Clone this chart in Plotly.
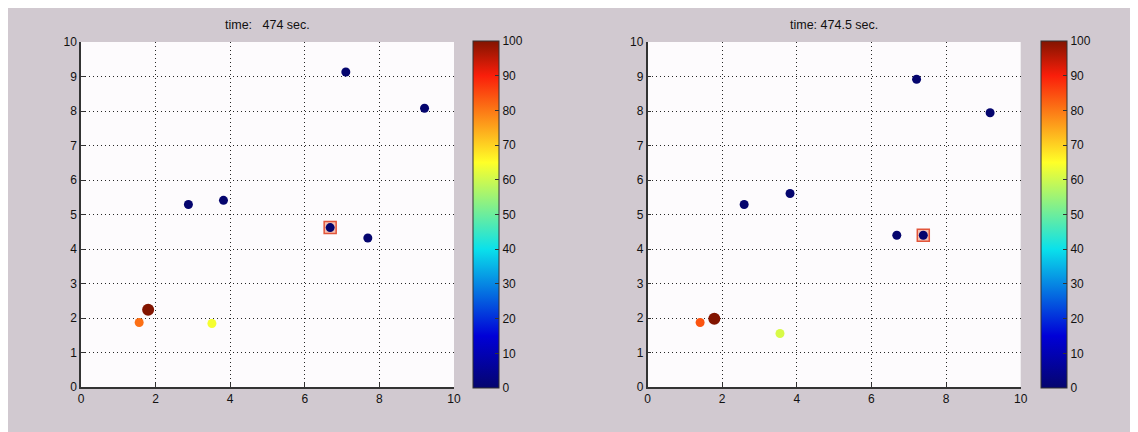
import plotly.graph_objects as go

# page body has an 8px margin; figure fills the rest of the 1138x432 window
OFF = 8
W, H = 1138 - OFF, 432 - OFF

# ---- data ----
titles = ["time:   474 sec.", "time: 474.5 sec."]

left_x = [7.10, 9.21, 2.88, 3.82, 6.68, 7.69, 1.80, 1.56, 3.51]
left_y = [9.13, 8.08, 5.29, 5.41, 4.62, 4.32, 2.24, 1.87, 1.84]
left_v = [0, 0, 0, 0, 0, 0, 100, 81, 64]
left_s = [9, 9, 9, 9, 9, 9, 12, 9, 9]
left_sel_x = [6.68]
left_sel_y = [4.62]

right_x = [7.21, 9.18, 2.59, 3.82, 6.68, 7.39, 1.79, 1.41, 3.55]
right_y = [8.92, 7.95, 5.29, 5.61, 4.40, 4.40, 1.98, 1.87, 1.55]
right_v = [0, 0, 0, 0, 0, 0, 100, 84, 61]
right_s = [9, 9, 9, 9, 9, 9, 12, 9, 9]
right_sel_x = [7.39]
right_sel_y = [4.40]

x_ticks = [0, 2, 4, 6, 8, 10]
y_ticks = [0, 1, 2, 3, 4, 5, 6, 7, 8, 9, 10]
cb_ticks = [0, 10, 20, 30, 40, 50, 60, 70, 80, 90, 100]

# jet-like colormap as seen in the reference colorbar
jet = [
    [0.0, "rgb(5,5,110)"],
    [0.15, "rgb(0,0,215)"],
    [0.40, "rgb(10,225,235)"],
    [0.65, "rgb(255,255,40)"],
    [0.90, "rgb(250,30,10)"],
    [1.0, "rgb(130,20,0)"],
]

BG = "#D1C9D0"
FONT = "Liberation Sans, Arial, sans-serif"

fig = go.Figure()

# convert window pixel coordinates to paper fractions
def px_x(p):
    return (p - OFF) / W

def px_y(p):
    return 1 - (p - OFF) / H

panels = [
    dict(xs=left_x, ys=left_y, vs=left_v, ss=left_s, sx=left_sel_x, sy=left_sel_y,
         xa="x", ya="y", ca="coloraxis", dom=(81, 454), cbx=473, title=titles[0]),
    dict(xs=right_x, ys=right_y, vs=right_v, ss=right_s, sx=right_sel_x, sy=right_sel_y,
         xa="x2", ya="y2", ca="coloraxis2", dom=(647.5, 1020.7), cbx=1041, title=titles[1]),
]

plot_top, plot_bot = 42, 387

for i, p in enumerate(panels):
    fig.add_trace(go.Scatter(
        x=p["sx"], y=p["sy"], mode="markers", xaxis=p["xa"], yaxis=p["ya"],
        marker=dict(symbol="square", size=12, color="#F5C2B4", opacity=1,
                    line=dict(color="#E2553A", width=1.5)),
        showlegend=False, hoverinfo="skip"))
    fig.add_trace(go.Scatter(
        x=p["xs"], y=p["ys"], mode="markers", xaxis=p["xa"], yaxis=p["ya"],
        marker=dict(size=p["ss"], color=p["vs"], coloraxis=p["ca"], opacity=1,
                    line=dict(width=0)),
        opacity=1, showlegend=False))

    sfx = "" if i == 0 else str(i + 1)
    axcommon = dict(
        range=[0, 10], showgrid=True, gridcolor="#262626", griddash="1px,3px", gridwidth=1,
        zeroline=False, showline=True, linecolor="#333333", linewidth=1.5,
        ticks="inside", ticklen=4, tickcolor="#333333", automargin=False,
        tickfont=dict(family=FONT, size=12, color="#111111"), fixedrange=True,
    )
    fig.layout["xaxis" + sfx] = dict(
        axcommon, domain=[px_x(p["dom"][0]), px_x(p["dom"][1])],
        tickvals=x_ticks, ticktext=[str(t) for t in x_ticks],
        anchor="y" + sfx)
    fig.layout["yaxis" + sfx] = dict(
        axcommon, domain=[px_y(plot_bot), px_y(plot_top)],
        tickvals=y_ticks, ticktext=[str(t) for t in y_ticks],
        anchor="x" + sfx)
    fig.layout[p["ca"]] = dict(
        cmin=0, cmax=100, colorscale=jet,
        colorbar=dict(
            x=px_x(p["cbx"]), xanchor="left", xpad=0, ypad=0,
            y=px_y((41 + 388) / 2), yanchor="middle", len=(388 - 41) / H, lenmode="fraction",
            thickness=26, thicknessmode="pixels",
            outlinewidth=1, outlinecolor="#333333",
            tickvals=cb_ticks, ticktext=[str(t) for t in cb_ticks],
            ticks="inside", ticklen=4, tickcolor="#333333",
            tickfont=dict(family=FONT, size=12, color="#111111"),
        ))
    fig.add_annotation(
        x=px_x((p["dom"][0] + p["dom"][1]) / 2), y=px_y(25), xref="paper", yref="paper",
        text=p["title"], showarrow=False, xanchor="center", yanchor="middle",
        font=dict(family=FONT, size=12.5, color="#111111"))

fig.update_layout(
    width=W, height=H, margin=dict(l=0, r=0, t=0, b=0, pad=0, autoexpand=False),
    paper_bgcolor=BG, plot_bgcolor="#FDFBFD",
    font=dict(family=FONT),
)

fig.write_html("out.html")
